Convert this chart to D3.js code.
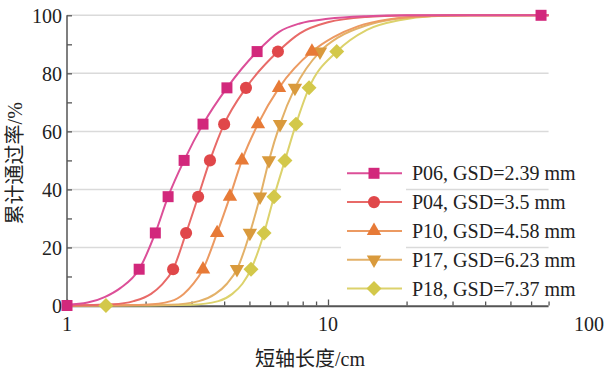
<!DOCTYPE html>
<html lang="zh">

<head>
    <meta charset="UTF-8">
    <title>累计通过率</title>
    <script src="https://cdn.jsdelivr.net/npm/d3@7"></script>
    <style>
        body { margin: 0; background: #fff; }
        text { font-family: "Liberation Serif", "Noto Sans CJK SC", serif; fill: #222; }
    </style>
</head>

<body>
    <script>
        // series names and legend labels
        var names = ["P06", "P04", "P10", "P17", "P18"]
        var labels = ["P06, GSD=2.39 mm", "P04, GSD=3.5 mm", "P10, GSD=4.58 mm", "P17, GSD=6.23 mm", "P18, GSD=7.37 mm"]

        // curve points [size cm, passing %]
        var p06 = [[1, 0.3], [1.2, 1], [1.4, 3], [1.6, 6], [1.89, 12.5], [2.18, 25], [2.44, 37.5], [2.81, 50], [3.32, 62.5], [4.1, 75], [5.35, 87.5], [6.5, 94.3], [7.8, 97.2], [10, 98.8], [14, 99.7], [20, 100], [70, 100]]
        var p04 = [[1, 0], [1.5, 0.4], [1.8, 1.5], [2.1, 4], [2.3, 7], [2.55, 12.5], [2.86, 25], [3.18, 37.5], [3.53, 50], [4.0, 62.5], [4.85, 75], [6.43, 87.5], [7.8, 93.8], [10, 97.6], [14, 99.4], [20, 99.9], [30, 100], [70, 100]]
        var p10 = [[1, 0], [2, 0.3], [2.5, 1.5], [2.8, 4], [3.05, 7.5], [3.32, 12.5], [3.76, 25], [4.21, 37.5], [4.68, 50], [5.39, 62.5], [6.49, 75], [8.68, 87.5], [10.5, 92.5], [13, 96.2], [17, 98.6], [25, 99.8], [35, 100], [70, 100]]
        var p17 = [[1, 0], [2.5, 0.3], [3.2, 1.5], [3.7, 4], [4.1, 7.5], [4.48, 12.5], [5.02, 25], [5.49, 37.5], [5.94, 50], [6.55, 62.5], [7.47, 75], [9.32, 87.5], [11, 92.5], [14, 96.5], [18, 98.7], [25, 99.8], [35, 100], [70, 100]]
        var p18 = [[1, 0], [1.41, 0], [3, 0.3], [3.8, 1.5], [4.3, 4], [4.7, 7.5], [5.07, 12.5], [5.69, 25], [6.21, 37.5], [6.84, 50], [7.54, 62.5], [8.46, 75], [10.8, 87.5], [14.1, 95], [19, 98.4], [25, 99.7], [35, 100], [70, 100]]

        // marker points
        var m06 = [[1, 0], [1.89, 12.5], [2.18, 25], [2.44, 37.5], [2.81, 50], [3.32, 62.5], [4.1, 75], [5.35, 87.5], [65.5, 100]]
        var m04 = [[2.55, 12.5], [2.86, 25], [3.18, 37.5], [3.53, 50], [4.0, 62.5], [4.85, 75], [6.43, 87.5]]
        var m10 = [[3.32, 12.5], [3.76, 25], [4.21, 37.5], [4.68, 50], [5.39, 62.5], [6.49, 75], [8.68, 87.5]]
        var m17 = [[4.48, 12.5], [5.02, 25], [5.49, 37.5], [5.94, 50], [6.55, 62.5], [7.47, 75], [9.32, 87.5]]
        var m18 = [[1.41, 0], [5.07, 12.5], [5.69, 25], [6.21, 37.5], [6.84, 50], [7.54, 62.5], [8.46, 75], [10.8, 87.5]]

        var yTicks = [0, 10, 20, 30, 40, 50, 60, 70, 80, 90, 100]
        var xTicks = [1, 2, 3, 4, 5, 6, 7, 8, 9, 10, 20, 30, 40, 50, 60, 70]
        var xLabels = [1, 10, 100]

        var curves = [p06, p04, p10, p17, p18]
        var marks = [m06, m04, m10, m17, m18]
        var markColors = ["#d2287c", "#e0474a", "#e77a37", "#d99a3c", "#d3c84a"]
        var lineColors = ["#dc4f98", "#e86a68", "#ec9a62", "#e3b168", "#dcd26c"]

        var width = 606, height = 374
        var margin = { left: 67, top: 15.3 }
        var plotW = 522, plotH = 290.2

        var svg = d3.select("body").append("svg")
            .attr("width", width)
            .attr("height", height)
            .append("g")
            .attr("transform", "translate(" + margin.left + "," + margin.top + ")")

        var x = d3.scaleLog().domain([1, 100]).range([0, plotW])
        var y = d3.scaleLinear().domain([0, 100]).range([plotH, 0])
        var xEnd = x(70)

        // grid
        svg.append("g").selectAll("line")
            .data([20, 40, 60, 80, 100])
            .enter().append("line")
            .attr("x1", 0).attr("x2", xEnd)
            .attr("y1", d => y(d)).attr("y2", d => y(d))
            .attr("stroke", "#dadada")
            .attr("stroke-width", 1.5)

        // legend backing under the symbols
        svg.append("rect")
            .attr("x", 274).attr("y", 143)
            .attr("width", 65).attr("height", 142)
            .attr("fill", "#fff")

        // axes
        var yAxis = d3.axisLeft(y).tickValues(yTicks)
            .tickSizeInner(-5).tickSizeOuter(0).tickPadding(5)
            .tickFormat(d => d % 20 === 0 ? d : "")
        var gy = svg.append("g").call(yAxis)
        gy.select(".domain").remove()
        gy.selectAll("line").attr("stroke", "#555").attr("stroke-width", 1.3)
        gy.selectAll("text").style("font-size", "20px").attr("fill", "#222").attr("dy", "0.36em")

        var xAxis = d3.axisBottom(x).tickValues(xTicks)
            .tickSizeOuter(0).tickFormat("")
        var gx = svg.append("g").attr("transform", "translate(0," + plotH + ")").call(xAxis)
        gx.select(".domain").remove()
        gx.selectAll("line")
            .attr("y2", d => (d === 1 || d === 10) ? -6 : -4)
            .attr("stroke", "#555").attr("stroke-width", 1.3)

        svg.append("g").selectAll("text")
            .data(xLabels)
            .enter().append("text")
            .attr("x", d => x(d))
            .attr("y", plotH + 26)
            .attr("text-anchor", "middle")
            .style("font-size", "20px")
            .text(d => d)

        svg.append("line")
            .attr("x1", 0).attr("x2", xEnd)
            .attr("y1", plotH + 0.8).attr("y2", plotH + 0.8)
            .attr("stroke", "#555").attr("stroke-width", 2)
        svg.append("line")
            .attr("x1", 0).attr("x2", 0)
            .attr("y1", 0).attr("y2", plotH + 1.5)
            .attr("stroke", "#555").attr("stroke-width", 1.5)

        // axis titles
        svg.append("text")
            .attr("transform", "translate(" + (-45) + "," + (148) + ") rotate(-90)")
            .attr("text-anchor", "middle")
            .style("font-size", "20px")
            .text("累计通过率/%")
        svg.append("text")
            .attr("x", 243).attr("y", 351)
            .attr("text-anchor", "middle")
            .style("font-size", "20px")
            .text("短轴长度/cm")

        // symbols
        var symbols = [
            d3.symbol().type(d3.symbolSquare).size(121),
            d3.symbol().type(d3.symbolCircle).size(115),
            d3.symbol().type(d3.symbolTriangle).size(90),
            d3.symbol().type(d3.symbolTriangle).size(90),
            d3.symbol().type(d3.symbolSquare).size(112)
        ]
        var rot = [0, 0, 0, 180, 45]

        var line = d3.line()
            .x(d => x(d[0]))
            .y(d => y(d[1]))
            .curve(d3.curveMonotoneX)

        // draw back to front so P06 ends on top
        for (let i = curves.length - 1; i >= 0; i--) {
            svg.append("path")
                .datum(curves[i])
                .attr("d", line)
                .attr("fill", "none")
                .attr("stroke", lineColors[i])
                .attr("stroke-width", 2)
        }
        for (let i = marks.length - 1; i >= 0; i--) {
            svg.append("g").selectAll("path")
                .data(marks[i])
                .enter().append("path")
                .attr("d", symbols[i])
                .attr("transform", d => "translate(" + x(d[0]) + "," + y(d[1]) + ") rotate(" + rot[i] + ")")
                .attr("fill", markColors[i])
        }

        // legend
        var legend = svg.append("g").selectAll("g")
            .data(names)
            .enter().append("g")
            .attr("transform", (d, i) => "translate(280," + (158 + i * 28.8) + ")")
        legend.append("line")
            .attr("x1", 0).attr("x2", 55)
            .attr("stroke", (d, i) => lineColors[i])
            .attr("stroke-width", 2)
        legend.append("path")
            .attr("d", (d, i) => symbols[i]())
            .attr("transform", (d, i) => "translate(27,0) rotate(" + rot[i] + ")")
            .attr("fill", (d, i) => markColors[i])
        legend.append("text")
            .attr("x", 65)
            .attr("dy", "0.35em")
            .style("font-size", "20px")
            .text((d, i) => labels[i])
    </script>
</body>

</html>
